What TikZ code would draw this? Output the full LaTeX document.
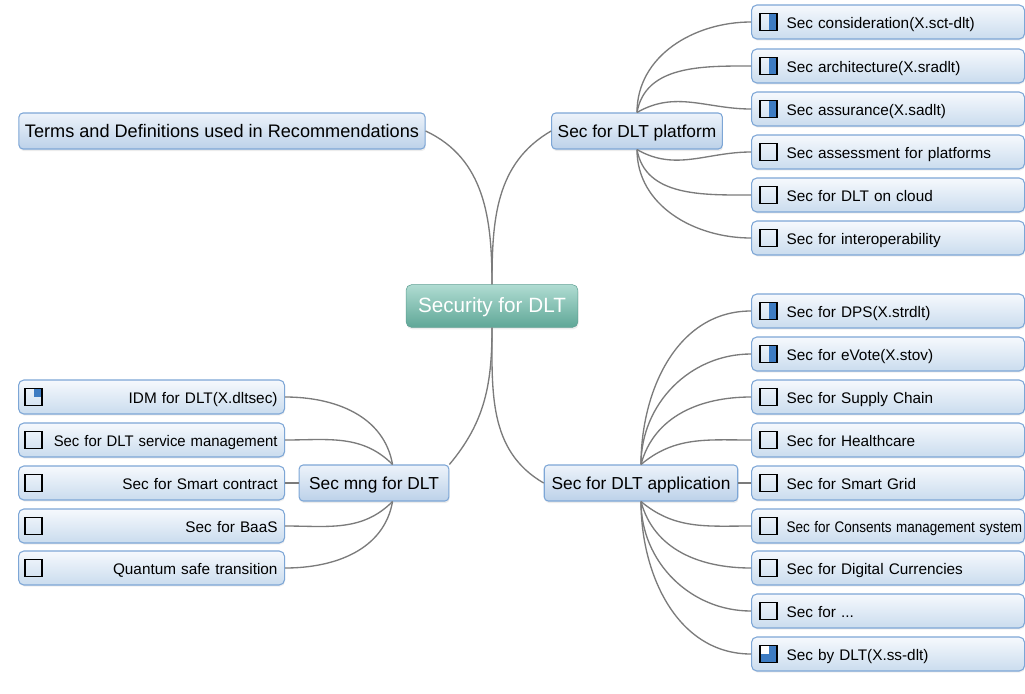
\documentclass[tikz,border=0pt]{standalone}
\usepackage{fontspec}
\setmainfont{Liberation Sans}
\usepackage{graphicx}
\usepackage{tikz}
\usetikzlibrary{shadows}

\definecolor{leafline}{HTML}{7DA6D6}
\definecolor{leaftop}{HTML}{F6F9FD}
\definecolor{leafbot}{HTML}{CADCEE}
\definecolor{maintop}{HTML}{EDF3FA}
\definecolor{mainbot}{HTML}{BCD1E9}
\definecolor{rootline}{HTML}{5E9F92}
\definecolor{roottop}{HTML}{B0DCD2}
\definecolor{rootbot}{HTML}{5FA797}
\definecolor{linkgray}{HTML}{7B7B7B}
\definecolor{tickblue}{HTML}{3E7CC2}

% check boxes in front of the leaves
\newcommand{\chkempty}[2][9]{\draw[tick] ([shift={(#1,-8.5)}]#2.west) rectangle ++(17,17);}
\newcommand{\chkhalf}[1]{\fill[tickblue] ([shift={(17.5,-8.5)}]#1.west) rectangle ++(8.5,17);
  \draw[tick] ([shift={(9,-8.5)}]#1.west) rectangle ++(17,17);}
\newcommand{\chkquarter}[1]{\fill[tickblue] ([shift={(15.5,-8.5)}]#1.west) rectangle ++(8.5,8.5);
  \draw[tick] ([shift={(7,-8.5)}]#1.west) rectangle ++(17,17);}
\newcommand{\chkthree}[1]{\fill[tickblue] ([shift={(9,-8.5)}]#1.west) rectangle ++(17,17);
  \fill[white] ([shift={(9,-8.5)}]#1.west) rectangle ++(8.5,8.5);
  \draw[tick] ([shift={(9,-8.5)}]#1.west) rectangle ++(17,17);}

\begin{document}
\begin{tikzpicture}[x=0.75pt, y=-0.75pt,
root/.style={rectangle, draw=rootline, top color=roottop, bottom color=rootbot, rounded corners=4pt, text=white, font=\fontsize{15.5}{18}\selectfont, text height=13.5pt, text depth=3.2pt, inner xsep=9pt, minimum height=32pt, drop shadow={opacity=0.15, shadow xshift=0.5pt, shadow yshift=-1.5pt}},
topic/.style={rectangle, draw=leafline, line width=0.8pt, top color=maintop, bottom color=mainbot, rounded corners=3pt, font=\fontsize{13}{16}\selectfont, text height=12pt, text depth=2.5pt, inner xsep=4.5pt, minimum height=27pt, drop shadow={opacity=0.15, shadow xshift=0.5pt, shadow yshift=-1.5pt}},
leaf/.style={rectangle, draw=leafline, line width=0.8pt, top color=leaftop, bottom color=leafbot, rounded corners=4pt, font=\fontsize{11.5}{14}\selectfont, text height=11pt, text depth=1.2pt, minimum height=25.5pt, anchor=west, drop shadow={opacity=0.12, shadow xshift=0.5pt, shadow yshift=-1.2pt}},
rleaf/.style={leaf, align=left, text width=200.25pt, inner xsep=2.25pt, execute at begin node=\hspace*{24pt}},
lleaf/.style={leaf, align=right, text width=189pt, inner xsep=5.25pt},
link/.style={draw=linkgray, line width=1pt},
tick/.style={draw=black, line width=0.8pt}
]
\useasboundingbox (0,0) rectangle (1025,693);

\node[root] (root) at (492,306) {Security for DLT};

\node[topic, font=\fontsize{13.6}{16}\selectfont] (terms) at (222,131) {Terms and Definitions used in Recommendations};
\node[topic] (plat) at (637,131) {Sec for DLT platform};
\node[topic, inner xsep=7.5pt] (mng) at (374,483) {Sec mng for DLT};
\node[topic, inner xsep=5.5pt] (app) at (641,483) {Sec for DLT application};

\node[rleaf] (p1) at (751,22) {Sec consideration(X.sct-dlt)};
\node[rleaf] (p2) at (751,66) {Sec architecture(X.sradlt)};
\node[rleaf] (p3) at (751,109) {Sec assurance(X.sadlt)};
\node[rleaf] (p4) at (751,152) {Sec assessment for platforms};
\node[rleaf] (p5) at (751,195) {Sec for DLT on cloud};
\node[rleaf] (p6) at (751,238) {Sec for interoperability};

\node[rleaf] (a1) at (751,311) {Sec for DPS(X.strdlt)};
\node[rleaf] (a2) at (751,354) {Sec for eVote(X.stov)};
\node[rleaf] (a3) at (751,397) {Sec for Supply Chain};
\node[rleaf] (a4) at (751,440) {Sec for Healthcare};
\node[rleaf] (a5) at (751,483) {Sec for Smart Grid};
\node[rleaf] (a6) at (751,526) {\scalebox{0.88}[1]{Sec for Consents management system}};
\node[rleaf] (a7) at (751,568) {Sec for Digital Currencies};
\node[rleaf] (a8) at (751,611) {Sec for ...};
\node[rleaf] (a9) at (751,654) {Sec by DLT(X.ss-dlt)};

\node[lleaf] (m1) at (18,397) {IDM for DLT(X.dltsec)};
\node[lleaf] (m2) at (18,440) {\scalebox{0.97}[1]{Sec for DLT service management}};
\node[lleaf] (m3) at (18,483) {Sec for Smart contract};
\node[lleaf] (m4) at (18,526) {Sec for BaaS};
\node[lleaf] (m5) at (18,568) {Quantum safe transition};

\chkhalf{p1} \chkhalf{p2} \chkhalf{p3}
\chkempty{p4} \chkempty{p5} \chkempty{p6}
\chkhalf{a1} \chkhalf{a2}
\chkempty{a3} \chkempty{a4} \chkempty{a5} \chkempty{a6} \chkempty{a7} \chkempty{a8}
\chkthree{a9}
\chkquarter{m1}
\chkempty[7]{m2} \chkempty[7]{m3} \chkempty[7]{m4} \chkempty[7]{m5}

% main branches
\draw[link] (root.north) to[out=90, in=-25] (terms.east);
\draw[link] (root.north) to[out=90, in=210] (plat.west);
\draw[link] (root.south) to[out=-90, in=50] (mng.north east);
\draw[link] (root.south) to[out=-90, in=150] (app.west);

% platform
\draw[link] (plat.north) to[out=90, in=180] (p1.west);
\draw[link] (plat.north) to[out=80, in=180] (p2.west);
\draw[link] (plat.north) to[out=30, in=180] (p3.west);
\draw[link] (plat.south) to[out=-30, in=180] (p4.west);
\draw[link] (plat.south) to[out=-80, in=180] (p5.west);
\draw[link] (plat.south) to[out=-90, in=180] (p6.west);

% application
\draw[link] (app.north) to[out=90, in=180] (a1.west);
\draw[link] (app.north) to[out=90, in=180] (a2.west);
\draw[link] (app.north) to[out=75, in=180] (a3.west);
\draw[link] (app.north) to[out=40, in=180] (a4.west);
\draw[link] (app.east) -- (a5.west);
\draw[link] (app.south) to[out=-40, in=180] (a6.west);
\draw[link] (app.south) to[out=-75, in=180] (a7.west);
\draw[link] (app.south) to[out=-90, in=180] (a8.west);
\draw[link] (app.south) to[out=-90, in=180] (a9.west);

% management
\draw[link] (mng.45) to[out=100, in=0] (m1.east);
\draw[link] (mng.45) to[out=135, in=0] (m2.east);
\draw[link] (mng.west) -- (m3.east);
\draw[link] (mng.-45) to[out=-135, in=0] (m4.east);
\draw[link] (mng.-45) to[out=-100, in=0] (m5.east);

\end{tikzpicture}
\end{document}
